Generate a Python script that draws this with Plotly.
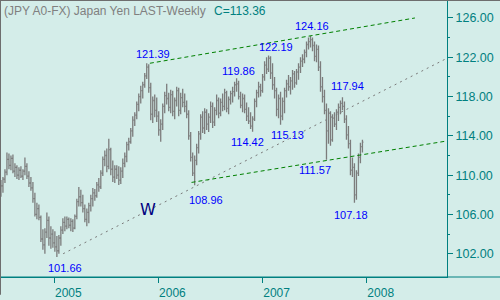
import plotly.graph_objects as go
import pandas as pd

# ---------------- data (weekly bars, Monday dates) ----------------
first_week = "2004-06-28"

opens = [108.6,108.9,109.6,110.3,111.6,111.0,111.7,110.4,110.8,110.0,110.5,109.9,110.4,110.9,109.9,109.2,108.7,107.6,106.0,106.6,
         105.7,103.5,102.9,104.2,105.4,103.6,104.0,103.1,102.7,102.3,103.6,104.4,105.2,104.8,105.5,104.9,105.3,104.6,105.8,107.3,
         107.8,107.2,106.6,105.5,106.2,106.9,107.6,108.2,107.9,109.0,108.8,110.2,111.6,112.0,110.9,112.6,110.6,109.8,110.6,110.0,
         109.5,110.4,111.2,111.9,113.1,113.4,114.5,115.6,116.1,117.2,118.0,118.6,119.2,120.1,121.0,118.9,116.2,117.6,116.6,116.0,
         114.6,115.2,117.0,118.1,117.8,116.9,118.2,116.5,117.6,118.6,116.6,117.9,117.4,117.0,116.2,114.0,111.8,110.2,111.5,112.8,
         114.2,115.9,114.8,116.4,115.2,115.9,117.0,115.4,116.6,117.6,116.3,117.4,117.0,118.4,116.8,117.7,118.3,118.5,119.2,119.3,
         118.0,117.1,117.8,116.7,116.0,115.5,115.0,115.7,117.5,118.4,119.0,118.6,120.0,121.2,120.8,121.9,120.4,119.2,118.6,116.7,
         117.8,116.0,117.5,118.6,119.3,119.0,119.6,120.3,119.4,120.5,121.0,121.6,121.8,122.5,123.3,123.6,123.8,123.2,122.1,122.8,
         121.0,119.0,118.0,116.6,114.5,116.3,113.6,115.8,115.2,116.4,116.9,117.3,117.0,115.7,114.1,113.2,110.5,110.8,108.0,110.2,
         111.8,112.9]
highs = [109.5,109.8,110.6,112.3,112.2,112.0,112.1,111.2,111.0,110.8,110.9,110.6,111.8,111.2,110.4,109.8,109.3,108.2,107.2,107.0,
         105.9,104.5,104.6,106.2,105.8,104.8,104.5,104.3,103.8,103.9,104.8,105.6,105.8,105.8,105.7,105.6,105.5,106.0,107.6,108.8,
         108.5,108.0,107.0,106.6,107.2,108.0,108.7,108.6,109.3,109.7,110.5,111.9,112.5,112.7,113.7,112.8,111.5,111.0,111.0,110.9,
         110.8,111.7,112.3,113.4,113.8,114.8,116.0,116.4,117.5,118.3,119.1,119.5,120.4,121.39,121.3,119.4,118.0,118.2,117.9,116.5,
         115.7,117.3,118.5,119.3,118.4,118.7,118.6,117.9,119.0,118.9,118.4,118.8,118.3,117.6,116.6,114.4,112.3,112.0,113.2,114.5,
         116.2,116.5,116.8,116.7,116.3,117.5,117.4,116.9,118.2,117.9,117.8,118.3,118.8,118.6,118.0,118.6,119.0,119.5,119.86,119.6,
         118.5,118.3,118.2,117.4,116.9,116.4,116.0,117.8,118.7,119.5,119.3,120.3,121.6,122.0,122.19,122.1,121.4,120.0,118.9,118.2,
         118.5,117.9,118.9,119.7,120.2,120.0,120.7,120.6,120.8,121.4,122.0,122.3,122.8,123.6,124.0,124.16,124.0,123.6,123.3,123.2,
         121.6,120.0,118.7,117.3,116.8,116.5,116.2,116.4,116.7,117.3,117.6,117.94,117.5,116.1,115.0,113.6,111.8,111.2,110.5,112.2,
         113.3,113.6]
lows = [107.8,108.2,109.2,110.0,110.6,110.5,110.2,109.8,109.6,109.5,109.7,109.5,110.0,109.6,108.8,108.4,107.2,105.8,105.5,105.4,
        103.2,102.4,102.0,103.6,102.8,102.5,102.6,102.2,101.66,102.0,102.8,104.0,104.3,104.5,104.6,104.3,104.2,104.5,105.5,106.8,
        106.8,106.2,105.2,104.8,105.1,106.3,106.8,107.4,107.7,108.3,108.6,109.9,110.9,110.3,110.6,110.0,109.3,109.2,109.6,109.0,
        109.1,109.7,110.8,111.3,112.5,113.2,113.9,115.0,115.7,116.5,117.3,117.8,118.9,119.8,118.4,115.6,115.3,115.9,115.4,114.0,
        113.4,114.6,116.3,117.2,116.5,116.3,116.0,115.7,117.0,116.0,116.2,116.9,116.4,115.8,113.6,111.4,109.9,108.96,111.0,112.2,
        113.6,114.3,114.2,114.6,114.4,115.3,114.8,115.0,116.1,115.8,116.0,116.5,116.6,116.4,116.2,117.2,117.4,118.0,118.5,117.7,
        116.8,116.4,116.3,115.5,115.2,114.7,114.42,115.5,116.9,117.9,118.0,118.4,119.6,120.3,120.5,119.8,118.7,117.8,116.0,115.8,
        115.13,115.6,116.3,117.9,118.6,118.2,118.7,118.9,119.2,119.7,120.4,121.0,121.4,122.0,122.8,123.0,122.6,121.6,121.5,120.6,
        118.5,117.4,116.2,111.57,113.2,113.0,113.4,114.9,114.6,115.5,116.2,116.6,115.3,113.6,112.7,110.0,109.8,107.18,107.5,109.9,
        111.2,112.3]
closes = [108.9,109.6,110.3,111.6,111.0,111.7,110.4,110.8,110.0,110.5,109.9,110.4,110.9,109.9,109.2,108.7,107.6,106.0,106.6,105.7,
          103.5,102.9,104.2,105.4,103.6,104.0,103.1,102.7,102.3,103.6,104.4,105.2,104.8,105.5,104.9,105.3,104.6,105.8,107.3,107.8,
          107.2,106.6,105.5,106.2,106.9,107.6,108.2,107.9,109.0,108.8,110.2,111.6,112.0,110.9,112.6,110.6,109.8,110.6,110.0,109.5,
          110.4,111.2,111.9,113.1,113.4,114.5,115.6,116.1,117.2,118.0,118.6,119.2,120.1,121.0,118.9,116.2,117.6,116.6,116.0,114.6,
          115.2,117.0,118.1,117.8,116.9,118.2,116.5,117.6,118.6,116.6,117.9,117.4,117.0,116.2,114.0,111.8,110.2,111.5,112.8,114.2,
          115.9,114.8,116.4,115.2,115.9,117.0,115.4,116.6,117.6,116.3,117.4,117.0,118.4,116.8,117.7,118.3,118.5,119.2,119.3,118.0,
          117.1,117.8,116.7,116.0,115.5,115.0,115.7,117.5,118.4,119.0,118.6,120.0,121.2,120.8,121.9,120.4,119.2,118.6,116.7,117.8,
          116.0,117.5,118.6,119.3,119.0,119.6,120.3,119.4,120.5,121.0,121.6,121.8,122.5,123.3,123.6,123.8,123.2,122.1,122.8,121.0,
          119.0,118.0,116.6,114.5,116.3,113.6,115.8,115.2,116.4,116.9,117.3,117.0,115.7,114.1,113.2,110.5,110.8,108.0,110.2,111.8,
          112.9,113.36]

# trend lines (date, price)
upper_dates = ["2005-12-02", "2008-06-18"]
upper_prices = [121.39, 126.0]
channel_dates = ["2006-04-27", "2008-10-08 10:00"]
channel_prices = [109.26, 113.48]
support_dates = ["2005-02-01", "2008-10-08 10:00"]
support_prices = [102.0, 121.9]

# pivot labels: (bar index, value text, xshift px, yshift px)
pivot_bars = [73, 134, 118, 155, 171, 126, 140, 97, 28, 163, 177]
pivot_text = ["121.39", "122.19", "119.86", "124.16", "117.94", "114.42", "115.13", "108.96", "101.66", "111.57", "107.18"]
pivot_values = [121.39, 122.19, 119.86, 124.16, 117.94, 114.42, 115.13, 108.96, 101.66, 111.57, 107.18]
pivot_dx = [6, 7, 1.5, 1, 5, -5, 7, 11, 8.5, -11, -3]
pivot_dy = [9.4, 8.4, 7.7, 9.7, 11.5, -10, -10.5, -15, -11, -10.5, -12.5]

year_ticks = ["2005-01-01", "2006-01-01", "2007-01-01", "2008-01-01"]
year_text = ["2005", "2006", "2007", "2008"]
price_ticks = [102, 106, 110, 114, 118, 122, 126]
price_minor = [104, 108, 112, 116, 120, 124]

title_text = "(JPY A0-FX) Japan Yen LAST-Weekly"
close_text = "C=113.36"

# ---------------- figure ----------------
dates = pd.date_range(first_week, periods=len(closes), freq="7D")

BG = "#d4ede9"
TEAL = "#008080"
FONT = "Liberation Sans, Arial, sans-serif"
BAR = "#7c7c7c"

fig = go.Figure()
fig.add_trace(go.Ohlc(x=dates, open=opens, high=highs, low=lows, close=closes,
                      increasing=dict(line=dict(color=BAR, width=1.3)),
                      decreasing=dict(line=dict(color=BAR, width=1.3)),
                      tickwidth=0.5, hoverinfo="skip", showlegend=False))
fig.add_trace(go.Scatter(x=support_dates, y=support_prices, mode="lines",
                         line=dict(color="#7a7a7a", width=1, dash="2px,4px"), hoverinfo="skip", showlegend=False))
fig.add_trace(go.Scatter(x=upper_dates, y=upper_prices, mode="lines",
                         line=dict(color="#008000", width=1, dash="4px,3px"), hoverinfo="skip", showlegend=False))
fig.add_trace(go.Scatter(x=channel_dates, y=channel_prices, mode="lines",
                         line=dict(color="#008000", width=1, dash="4px,3px"), hoverinfo="skip", showlegend=False))

annotations = []
for b, t, v, dx, dy in zip(pivot_bars, pivot_text, pivot_values, pivot_dx, pivot_dy):
    annotations.append(dict(x=dates[b], y=v, xref="x", yref="y", text=t, showarrow=False,
                            xshift=dx, yshift=dy, xanchor="center", yanchor="middle",
                            font=dict(family=FONT, size=11, color="#0000ff")))
annotations.append(dict(x="2005-11-27", y=106.55, xref="x", yref="y", text="W", showarrow=False,
                        xanchor="center", yanchor="middle", font=dict(family="DejaVu Sans, sans-serif", size=16, color="#000080")))
annotations.append(dict(x=2 / 447, y=1 - 11 / 282, xref="paper", yref="paper", text=title_text, showarrow=False,
                        xanchor="left", yanchor="middle", font=dict(family=FONT, size=12, color="#808080")))
annotations.append(dict(x=212 / 447, y=1 - 11 / 282, xref="paper", yref="paper", text=close_text, showarrow=False,
                        xanchor="left", yanchor="middle", font=dict(family=FONT, size=12, color=TEAL)))

shapes = [
    dict(type="line", xref="paper", yref="paper", x0=0, x1=500 / 447, y0=0, y1=0, line=dict(color=TEAL, width=1)),
    dict(type="line", xref="paper", yref="paper", x0=0, x1=500 / 447, y0=1, y1=1, line=dict(color="#6e6e6e", width=2)),
    dict(type="line", xref="paper", yref="paper", x0=0, x1=0, y0=-18 / 282, y1=1, line=dict(color="#6e6e6e", width=2)),
]

fig.update_layout(
    width=500, height=300,
    margin=dict(l=0, r=53, t=0, b=18, pad=0),
    paper_bgcolor=BG, plot_bgcolor=BG,
    showlegend=False,
    annotations=annotations, shapes=shapes,
    xaxis=dict(type="date", range=["2004-06-24 16:00", "2008-10-08 10:00"],
               rangeslider=dict(visible=False), showgrid=False, zeroline=False,
               showline=True, linecolor=TEAL, linewidth=1,
               tickmode="array", tickvals=year_ticks, ticktext=year_text,
               ticks="outside", ticklen=5, tickcolor=TEAL, tickwidth=1,
               ticklabelshift=14, ticklabelstandoff=0,
               tickfont=dict(family=FONT, size=12, color=TEAL), fixedrange=True),
    yaxis=dict(side="right", range=[99.63, 127.83], showgrid=False, zeroline=False,
               showline=True, linecolor=TEAL, linewidth=1,
               tickmode="array", tickvals=price_ticks, ticktext=[f"{v:.2f}" for v in price_ticks],
               ticks="outside", ticklen=5, tickcolor=TEAL, tickwidth=1, ticklabelstandoff=0,
               minor=dict(tickmode="array", tickvals=price_minor, ticks="outside", ticklen=2, tickcolor=TEAL),
               tickfont=dict(family=FONT, size=12.5, color=TEAL), fixedrange=True),
)

fig.write_html("out.html", config={"displayModeBar": False})
